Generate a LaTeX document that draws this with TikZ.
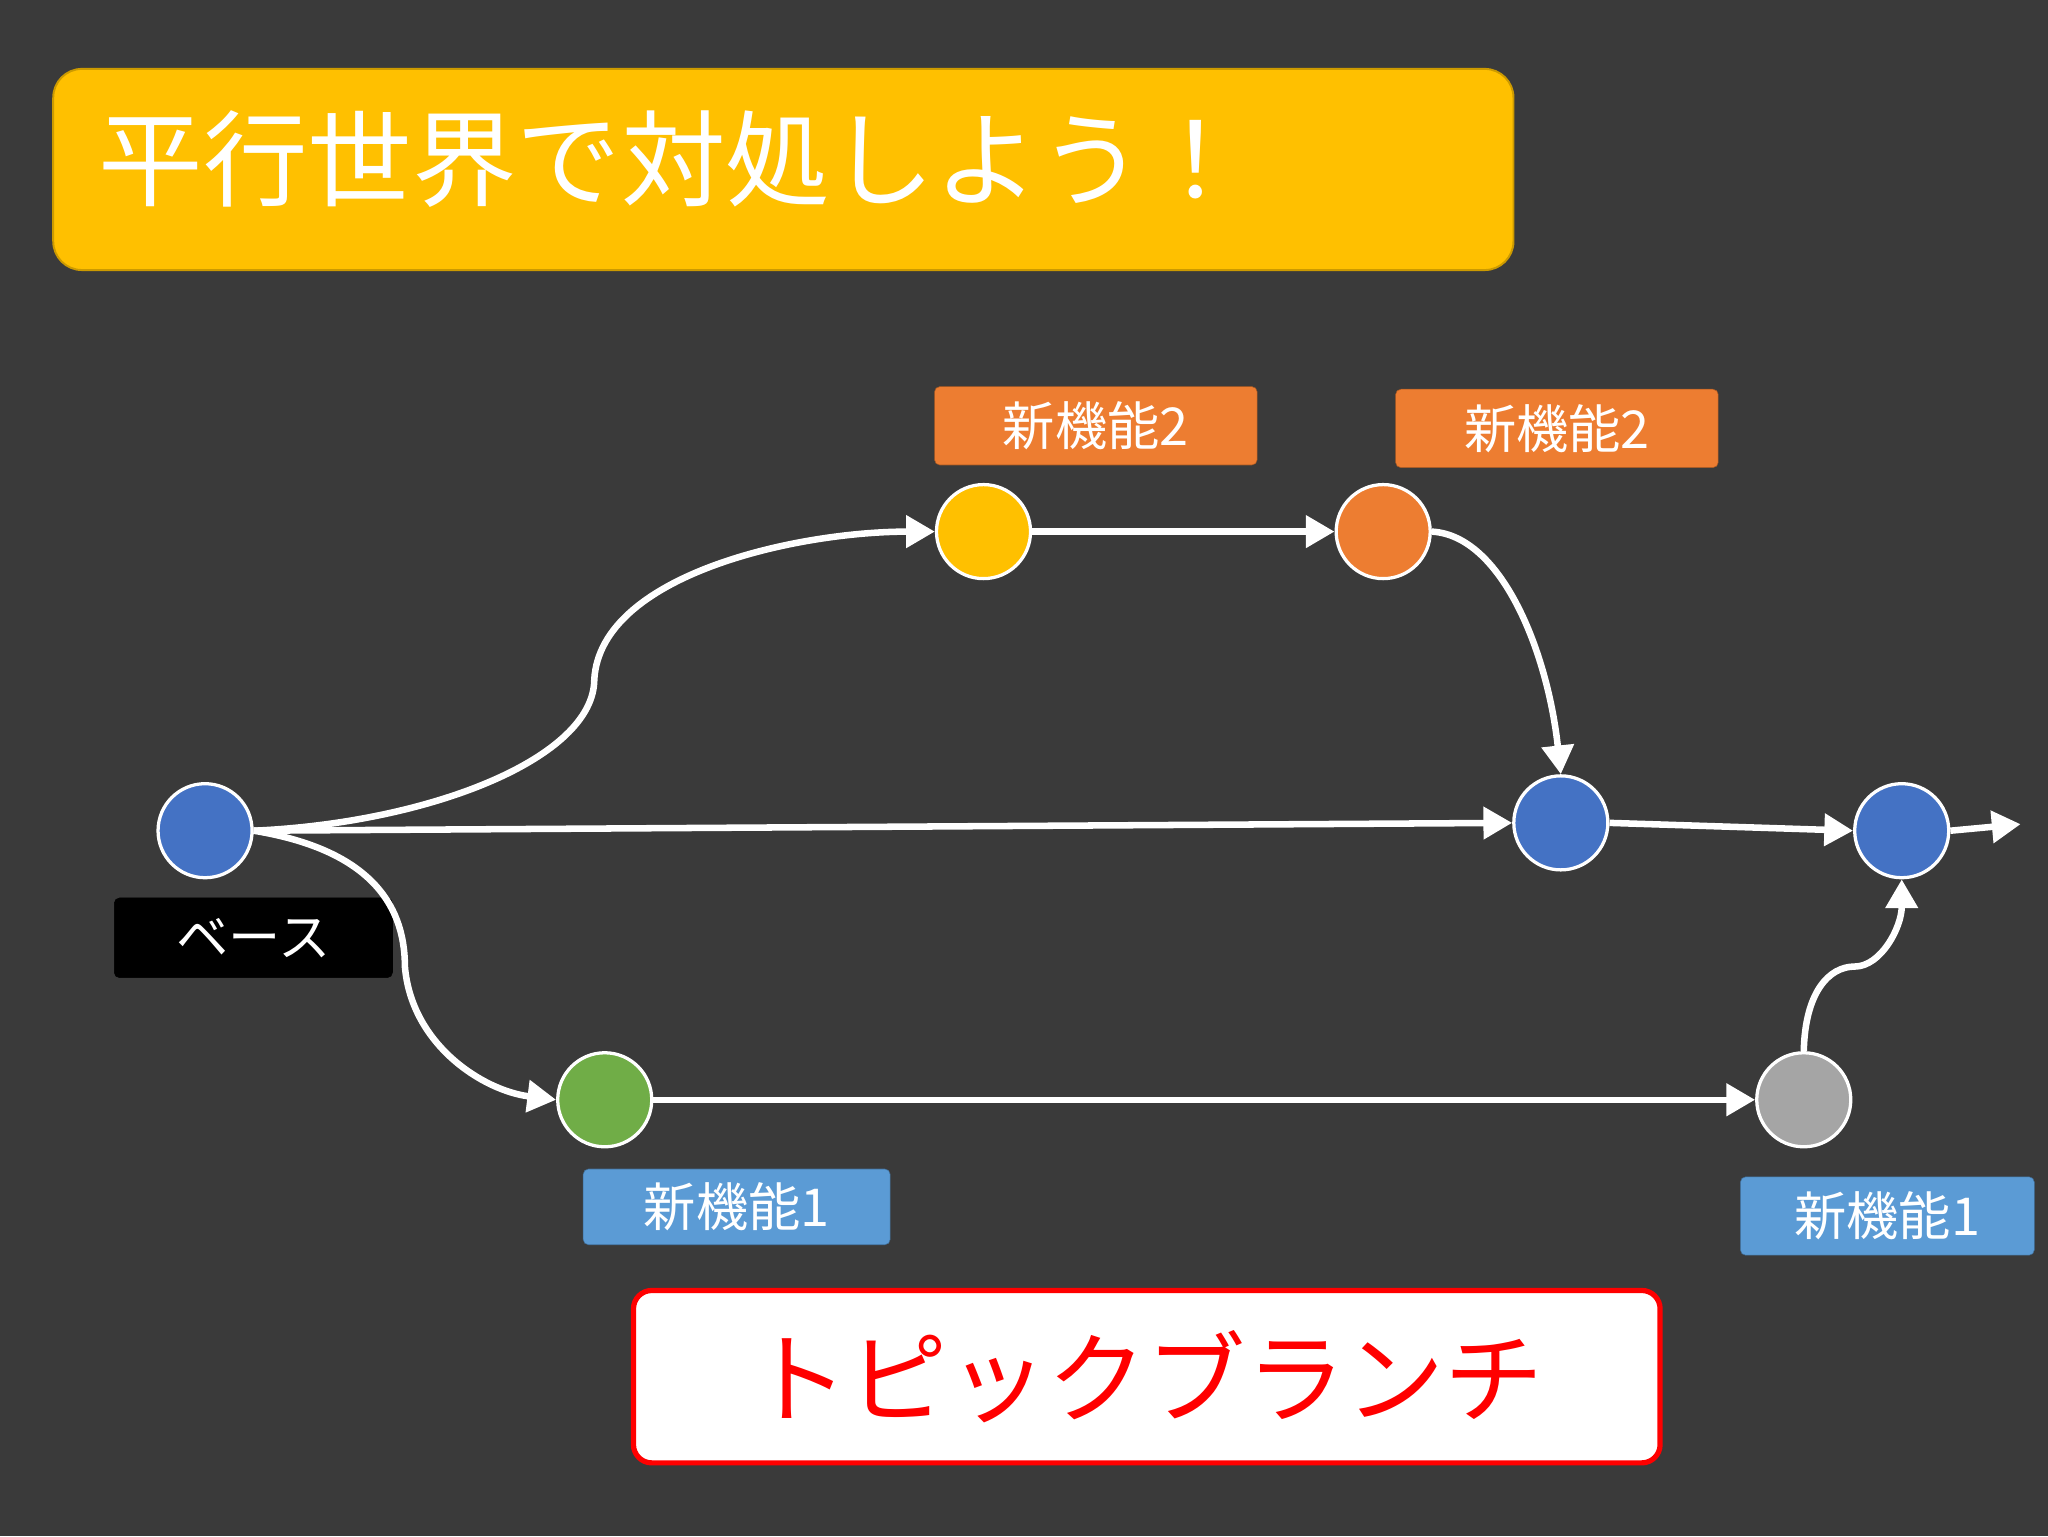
\documentclass[tikz,border=0pt]{standalone}
\usepackage{fontspec}
\setmainfont{Noto Sans CJK JP}
\usetikzlibrary{arrows.meta}
\definecolor{bg}{HTML}{3A3A3A}
\definecolor{gold}{HTML}{FFC000}
\definecolor{org}{HTML}{ED7D31}
\definecolor{blu}{HTML}{4472C4}
\definecolor{lblu}{HTML}{5B9BD5}
\definecolor{grn}{HTML}{70AD47}
\definecolor{gry}{HTML}{A5A5A5}
\tikzset{
 commit/.style={circle,draw=white,line width=2.5pt,minimum size=72pt,inner sep=0pt},
 lbl/.style={rounded corners=4pt,draw=#1!70!black,fill=#1,text=white,font=\fontsize{40}{40}\selectfont,inner sep=0pt},
 conn/.style={white,line width=5pt,-{Triangle[length=22pt,width=24pt]}},
}
\begin{document}
\begin{tikzpicture}[x=1pt,y=-1pt]
\fill[bg] (0,0) rectangle (1568,1176);
\node[rounded corners=22pt,draw=gold!80!black,line width=1.5pt,fill=gold,minimum width=1118pt,minimum height=154pt,anchor=north west] (title) at (40,52) {};
\node[anchor=west,text=white,font=\fontsize{80}{80}\selectfont] (tt) at (72,122) {平行世界で対処しよう！};
\node[commit,fill=blu] (base) at (157,636) {};
\node[commit,fill=gold] (y) at (753,407) {};
\node[commit,fill=org] (o) at (1059,407) {};
\node[commit,fill=blu] (m) at (1195,630) {};
\node[commit,fill=blu] (e) at (1456,636) {};
\node[commit,fill=grn] (g) at (463,842) {};
\node[commit,fill=gry] (gr) at (1381,842) {};
\coordinate (endp) at (1547,631);
\node[lbl=org,minimum width=247pt,minimum height=60pt] (l1) at (839,326) {新機能2};
\node[lbl=org,minimum width=247pt,minimum height=60pt] (l2) at (1192,328) {新機能2};
\node[lbl=lblu,minimum width=235pt,minimum height=58pt] (l3) at (564,924) {新機能1};
\node[lbl=lblu,minimum width=225pt,minimum height=60pt] (l4) at (1445,931) {新機能1};
\node[lbl=black,minimum width=213pt,minimum height=61pt] (l5) at (194,718) {ベース};
\node[rounded corners=14pt,draw=red,line width=4pt,fill=white,minimum width=786pt,minimum height=132pt,text=red,font=\fontsize{76}{76}\selectfont] (tb) at (878,1054) {トピックブランチ};
\draw[conn] (base.east) -- (m.west);
\draw[conn] (m.east) -- (e.west);
\draw[conn] (e.east) -- (endp);
\draw[conn] (base.east) .. controls (330,630) and (455,580) .. (455,520) .. controls (460,440) and (610,407) .. (y.west);
\draw[conn] (y.east) -- (o.west);
\draw[conn] (o.east) .. controls (1150,410) and (1185,500) .. (m.north);
\draw[conn] (base.east) .. controls (280,650) and (310,690) .. (310,740) .. controls (315,800) and (370,835) .. (g.west);
\draw[conn] (g.east) -- (gr.west);
\draw[conn] (gr.north) .. controls (1382,760) and (1400,740) .. (1420,740) .. controls (1440,740) and (1456,710) .. (e.south);
\end{tikzpicture}
\end{document}
